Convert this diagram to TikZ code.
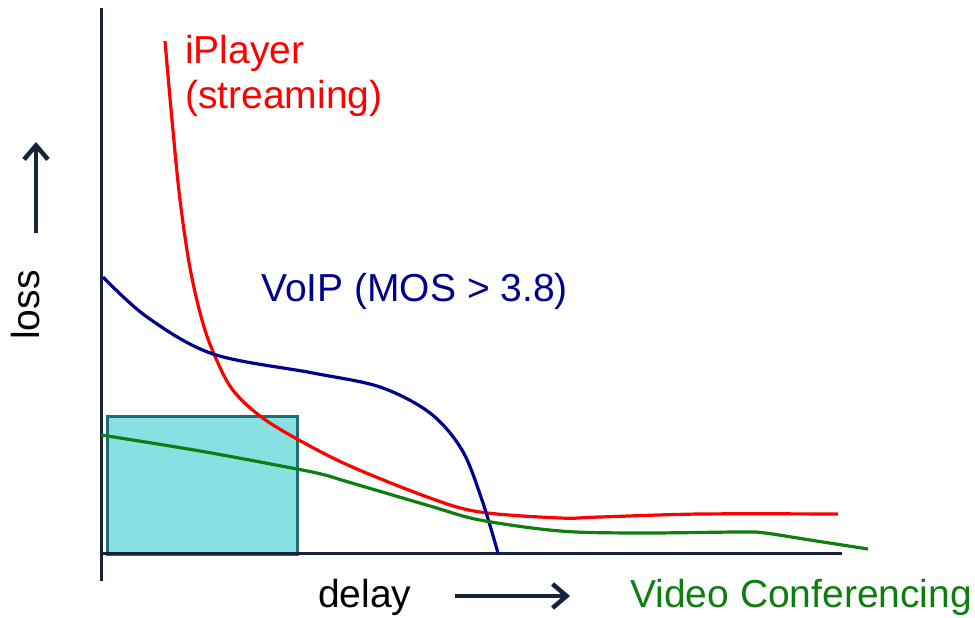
\documentclass[tikz,border=0pt]{standalone}
\usepackage{fontspec}
\setmainfont{Liberation Sans}
\usepackage{tikz}
\usetikzlibrary{positioning,calc,arrows.meta}

\definecolor{axiscol}{RGB}{22,36,58}
\definecolor{voipcol}{RGB}{0,0,140}
\definecolor{vccol}{RGB}{15,125,15}
\definecolor{boxfill}{RGB}{136,225,224}
\definecolor{boxline}{RGB}{30,110,112}

\tikzset{
  axisline/.style={draw=axiscol, line width=3pt},
  dirarrow/.style={draw=axiscol, line width=4.5pt, -{Straight Barb[length=14pt,width=24pt,line width=4.5pt]}},
  curve/.style={line width=3.2pt, smooth, tension=0.55},
  lbl/.style={font=\fontsize{39}{44}\selectfont, inner sep=0pt, anchor=base west}
}

\begin{document}
\begin{tikzpicture}[x=1pt,y=-1pt]
                    \useasboundingbox (0,0) rectangle (975,618);
                    % acceptable region
                    \draw[fill=boxfill, draw=boxline, line width=3pt] (107,416) rectangle (297,554);
                    % axes
                    \coordinate (ytop) at (101,8);
                    \coordinate (ybot) at (101,581);
                    \coordinate (xleft) at (101,553);
                    \coordinate (xright) at (842,553);
                    \draw[axisline] (ytop) -- (ybot);
                    \draw[axisline] (xleft) -- (xright);
                    % curves
                    \draw[curve, red] plot coordinates {(165,41) (172,120) (180,200) (190,268) (202,320) (214,354) (232,389) (260,416) (297,439) (350,466) (430,498) (480,512) (560,518) (600,517) (700,514) (838,514)};
                    \draw[curve, voipcol] plot coordinates {(103,277) (147,317) (213,354) (313,373) (380,387) (430,413) (462,450) (482,500) (498,553)};
                    \draw[curve, vccol] plot coordinates {(101,435) (200,451) (297,469) (325,475) (345,481) (430,506) (480,520) (560,531) (640,533) (740,532) (765,533) (810,540) (868,549)};
                    % labels
                    \node[lbl, red, align=left] (iplayer) at (185,108) {iPlayer\\(streaming)};
                    \node[lbl, voipcol] (voip) at (261,301) {VoIP (MOS > 3.8)};
                    \node[lbl, vccol] (vc) at (630,607) {Video Conferencing};
                    \node[lbl] (delay) at (318,607) {delay};
                    \node[lbl, rotate=90] (loss) at (39,340) {loss};
                    % direction arrows
                    \coordinate (da) at (455,596);
                    \coordinate (db) at (570,596);
                    \coordinate (la) at (36,233);
                    \coordinate (lb) at (36,142);
                    \draw[dirarrow] (da) -- (db);
                    \draw[dirarrow] (la) -- (lb);
                \end{tikzpicture}
\end{document}
